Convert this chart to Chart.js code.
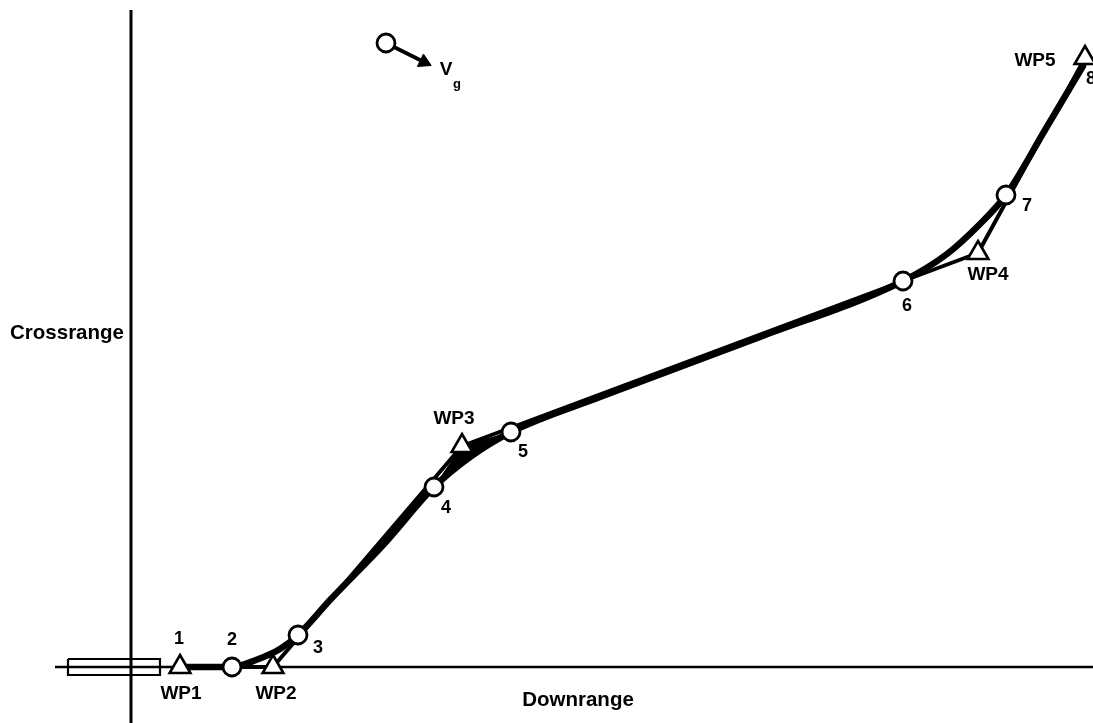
<!DOCTYPE html>
<html>
<head>
<meta charset="utf-8">
<script src="https://cdn.jsdelivr.net/npm/chart.js@4/dist/chart.umd.min.js"></script>
<style>
  html, body { margin: 0; padding: 0; background: #fff; }
  #wrap { width: 1093px; height: 723px; }
</style>
</head>
<body>
<div id="wrap"><canvas id="c" width="1093" height="723"></canvas></div>
<script>
// Flown ground track (downrange, crossrange), origin at the axes crossing
const trackX = [49, 101, 125, 149, 167, 199, 254, 303, 339, 380, 469, 629, 772, 816, 849, 875, 914, 952];
const trackY = [0, 0, 7, 18, 32, 67, 124, 180, 210, 235, 270, 330, 386, 413, 443, 472, 537, 601];

// Position fixes 2..7 drawn as circles (indices into the track)
const fixIndex = [1, 4, 7, 9, 12, 15];

// Planned route through the waypoints
const waypointNames = ['WP1', 'WP2', 'WP3', 'WP4', 'WP5'];
const waypointX = [49, 142, 331, 847, 954];
const waypointY = [0, 0, 221, 414, 609];

// Fix numbers 1..8 (1 at WP1, 8 at WP5)
const fixLabels = ['1', '2', '3', '4', '5', '6', '7', '8'];

// Runway outline
const runwayX = [-63, 29, 29, -63, -63];
const runwayY = [8, 8, -8, -8, 8];

// Ground-velocity key: circle and arrow
const keyX = [255, 293];
const keyY = [624, 605];

const axisTitles = { x: 'Downrange', y: 'Crossrange' };

// ---- layout (pixel offsets of the text from its mark) ----
const fixLabelOffsets = [[-1, -28], [0, -27], [20, 13], [12, 21], [12, 20], [4, 25], [21, 11], [6, 21]];
const wpLabelOffsets = [[1, 27], [3, 27], [-8, -27], [10, 22], [-50, 3]];

const pts = (xs, ys) => xs.map((x, i) => ({ x, y: ys[i] }));
const trackPt = i => ({ x: trackX[i], y: trackY[i] });
const wpPt = i => ({ x: waypointX[i], y: waypointY[i] });

const fixPoints = fixIndex.map(trackPt);
const fixAnchor = [wpPt(0)].concat(fixPoints).concat([wpPt(4)]);

// turn short of WP3: the gap between the route and the track is inked in
const wp3Wedge = [trackPt(fixIndex[2]), wpPt(2), trackPt(fixIndex[3]), trackPt(8), trackPt(fixIndex[2])];

const FONT = '"Liberation Sans", Arial, Helvetica, sans-serif';

const textPlugin = {
  id: 'diagramText',
  afterDatasetsDraw(chart) {
    const { ctx, scales } = chart;
    const px = v => scales.x.getPixelForValue(v);
    const py = v => scales.y.getPixelForValue(v);
    ctx.save();
    ctx.fillStyle = '#000';
    ctx.textAlign = 'center';
    ctx.textBaseline = 'middle';

    ctx.font = 'bold 18px ' + FONT;
    fixLabels.forEach((t, i) => {
      const a = fixAnchor[i], o = fixLabelOffsets[i];
      ctx.fillText(t, px(a.x) + o[0], py(a.y) + o[1]);
    });
    ctx.font = 'bold 19px ' + FONT;
    waypointNames.forEach((t, i) => {
      const o = wpLabelOffsets[i];
      ctx.fillText(t, px(waypointX[i]) + o[0], py(waypointY[i]) + o[1]);
    });

    // axis titles
    ctx.font = 'bold 20.5px ' + FONT;
    ctx.fillText(axisTitles.x, px(447), py(-33));
    ctx.fillText(axisTitles.y, px(-64), py(334));

    // ground velocity symbol
    ctx.font = 'bold 19px ' + FONT;
    ctx.fillText('V', px(keyX[0]) + 60, py(keyY[0]) + 27);
    ctx.font = 'bold 13px ' + FONT;
    ctx.fillText('g', px(keyX[0]) + 71, py(keyY[0]) + 41);
    ctx.restore();
  }
};

new Chart(document.getElementById('c'), {
  type: 'line',
  data: {
    datasets: [
      { // position fixes
        data: fixPoints, showLine: false, order: 0,
        pointStyle: 'circle', pointRadius: 9, pointBorderWidth: 2.8,
        pointBackgroundColor: '#fff', pointBorderColor: '#000'
      },
      { // waypoint triangles
        data: pts(waypointX, waypointY), showLine: false, order: 0,
        pointStyle: 'triangle', pointRadius: 12, pointBorderWidth: 2.6,
        pointBackgroundColor: '#fff', pointBorderColor: '#000'
      },
      { // key circle
        data: [{ x: keyX[0], y: keyY[0] }], showLine: false, order: 0,
        pointStyle: 'circle', pointRadius: 9, pointBorderWidth: 2.8,
        pointBackgroundColor: '#fff', pointBorderColor: '#000'
      },
      { // key arrowhead
        data: [{ x: keyX[1], y: keyY[1] }], showLine: false, order: 1,
        pointStyle: 'triangle', pointRadius: 8, pointRotation: 116, pointBorderWidth: 1,
        pointBackgroundColor: '#000', pointBorderColor: '#000'
      },
      { // key shaft
        data: pts(keyX, keyY), order: 2, borderColor: '#000', borderWidth: 3.8,
        pointRadius: 0, tension: 0
      },
      { // flown track
        data: pts(trackX, trackY), order: 2, borderColor: '#000', borderWidth: 6.5,
        pointRadius: 0, cubicInterpolationMode: 'monotone', borderCapStyle: 'round', borderJoinStyle: 'round'
      },
      { // planned route
        data: pts(waypointX, waypointY), order: 3, borderColor: '#000', borderWidth: 4,
        pointRadius: 0, tension: 0, borderJoinStyle: 'round'
      },
      { // inked wedge at WP3
        data: wp3Wedge, order: 3, borderColor: '#000', borderWidth: 1,
        backgroundColor: '#000', fill: 'shape', pointRadius: 0, tension: 0
      },
      { // runway
        data: pts(runwayX, runwayY), order: 4, borderColor: '#000', borderWidth: 2.2,
        pointRadius: 0, tension: 0, fill: false
      },
      { // downrange axis
        data: [{ x: -76, y: 0 }, { x: 962, y: 0 }], order: 5, borderColor: '#000',
        borderWidth: 2.4, pointRadius: 0, tension: 0
      },
      { // crossrange axis
        data: [{ x: 0, y: -56 }, { x: 0, y: 657 }], order: 5, borderColor: '#000',
        borderWidth: 3, pointRadius: 0, tension: 0
      }
    ]
  },
  options: {
    responsive: false,
    animation: false,
    devicePixelRatio: 1,
    layout: { padding: 0, autoPadding: false },
    plugins: { legend: { display: false }, tooltip: { enabled: false }, filler: { propagate: false } },
    events: [],
    scales: {
      x: { type: 'linear', min: -131, max: 962, display: false },
      y: { type: 'linear', min: -56, max: 667, display: false }
    },
    clip: false
  },
  plugins: [textPlugin]
});
</script>
</body>
</html>
